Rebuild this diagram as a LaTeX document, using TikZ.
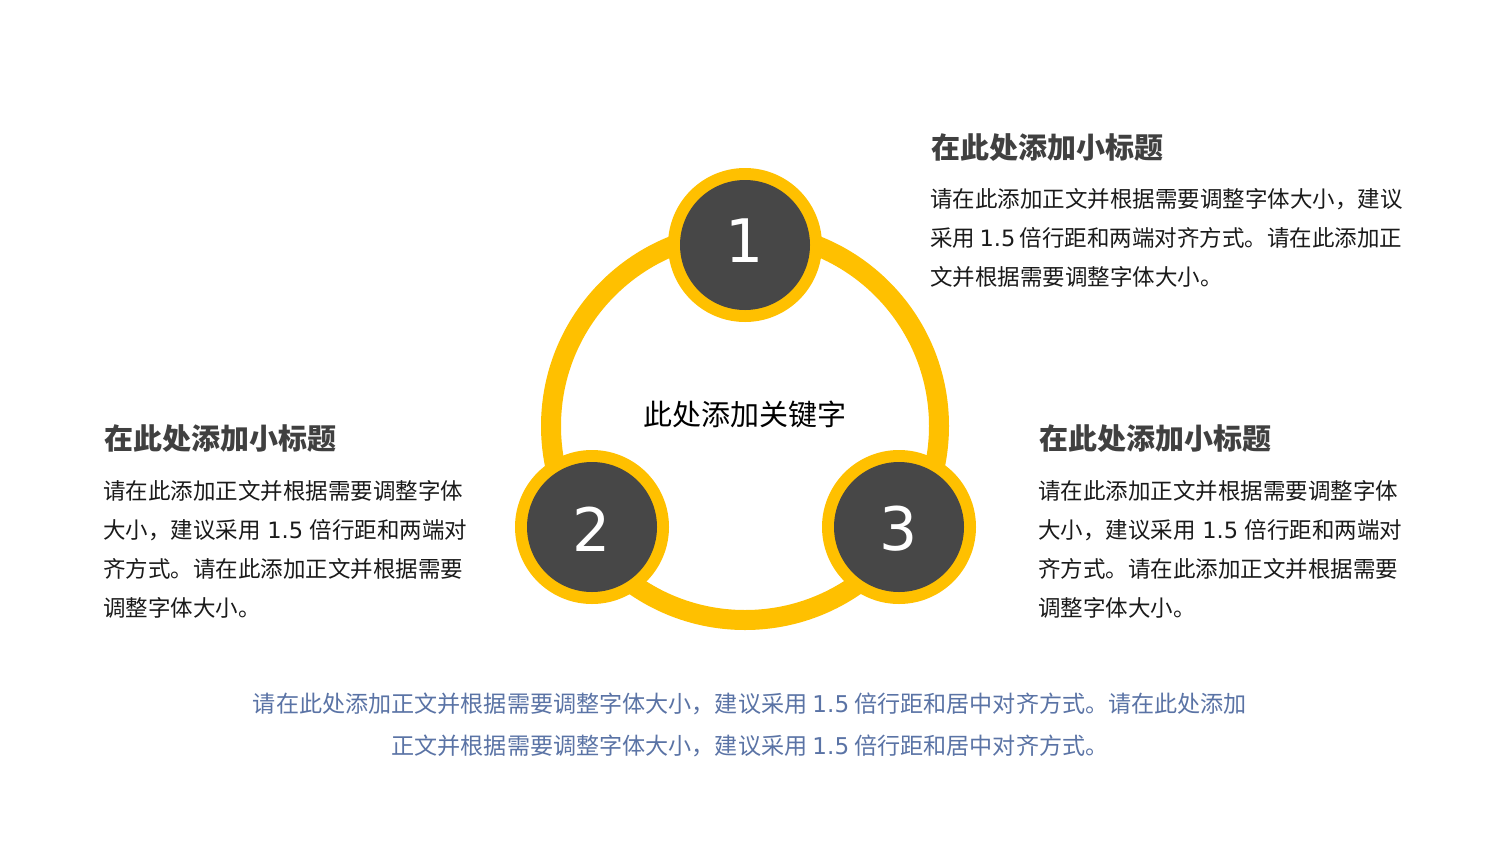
\documentclass[tikz,border=0pt]{standalone}
\usepackage{fontspec}
\setmainfont{DejaVu Sans}
\newfontfamily\cjk{Noto Sans CJK SC}
\XeTeXlinebreaklocale "zh"
\XeTeXlinebreakskip=0pt plus 3pt
\setlength{\parindent}{0pt}
\definecolor{ring}{HTML}{FFC000}
\definecolor{darkc}{HTML}{474747}
\definecolor{ttl}{HTML}{404040}
\definecolor{bodyc}{HTML}{1A1A1A}
\definecolor{bluec}{HTML}{5A73A5}
\newcommand\nm[1]{{\rmfamily #1}}
\newcommand\gp{\hskip 6pt plus 20pt minus 6pt}
\newcommand\jlA[1]{\leavevmode\hbox to 472pt{#1}}
\newcommand\jlB[1]{\leavevmode\hbox to 364pt{#1}}
\tikzset{
  outerdot/.style={circle,fill=ring,minimum size=154pt,inner sep=0},
  innerdot/.style={circle,fill=darkc,minimum size=130pt,inner sep=0},
  numtxt/.style={text=white,font=\rmfamily\fontsize{60}{60}\selectfont,inner sep=0},
  ttltxt/.style={anchor=base west,inner sep=0,text=ttl,font=\cjk\bfseries\fontsize{29}{29}\selectfont},
  bodytxt/.style={anchor=north west,inner sep=0,align=left,text=bodyc,font=\cjk\fontsize{22.5}{39}\selectfont},
}
\begin{document}
\begin{tikzpicture}[x=1pt,y=-1pt]
\useasboundingbox (0,0) rectangle (1500,844);
% big ring
\coordinate (c) at (745,426);
\draw[ring,line width=20pt] (c) circle[radius=194pt];
% small circles
\node[outerdot] (o1) at (745,245) {};
\node[innerdot] (d1) at (745,245) {};
\node[outerdot] (o2) at (592,527) {};
\node[innerdot] (d2) at (592,527) {};
\node[outerdot] (o3) at (899,527) {};
\node[innerdot] (d3) at (899,527) {};
\node[numtxt] (n1) at (745,241) {1};
\node[numtxt] (n2) at (592,529) {2};
\node[numtxt] (n3) at (899,529) {3};
% centre keyword
\node[inner sep=0,text=black,font=\cjk\fontsize{29}{29}\selectfont] (key) at (745,414) {此处添加关键字};
% top right block
\node[ttltxt] (t1) at (931,158) {在此处添加小标题};
\node[bodytxt,text width=472pt] (b1) at (930,188) {\jlA{请在此添加正文并根据需要调整字体大小，建议}\\\jlA{采用\gp\nm{1.5}\gp 倍行距和两端对齐方式。请在此添加正}\\文并根据需要调整字体大小。};
% left block
\node[ttltxt] (t2) at (104,449) {在此处添加小标题};
\node[bodytxt,text width=364pt] (b2) at (103,480) {\jlB{请在此添加正文并根据需要调整字体}\\\jlB{大小，建议采用\gp\nm{1.5}\gp 倍行距和两端对}\\\jlB{齐方式。请在此添加正文并根据需要}\\调整字体大小。};
% right lower block
\node[ttltxt] (t3) at (1039,449) {在此处添加小标题};
\node[bodytxt,text width=364pt] (b3) at (1038,480) {\jlB{请在此添加正文并根据需要调整字体}\\\jlB{大小，建议采用\gp\nm{1.5}\gp 倍行距和两端对}\\\jlB{齐方式。请在此添加正文并根据需要}\\调整字体大小。};
% bottom text
\node[inner sep=0,align=center,text=bluec,font=\cjk\fontsize{23.1}{42}\selectfont,anchor=north] (bt) at (750,693) {请在此处添加正文并根据需要调整字体大小，建议采用 \nm{1.5} 倍行距和居中对齐方式。请在此处添加\\正文并根据需要调整字体大小，建议采用 \nm{1.5} 倍行距和居中对齐方式。};
\end{tikzpicture}
\end{document}
